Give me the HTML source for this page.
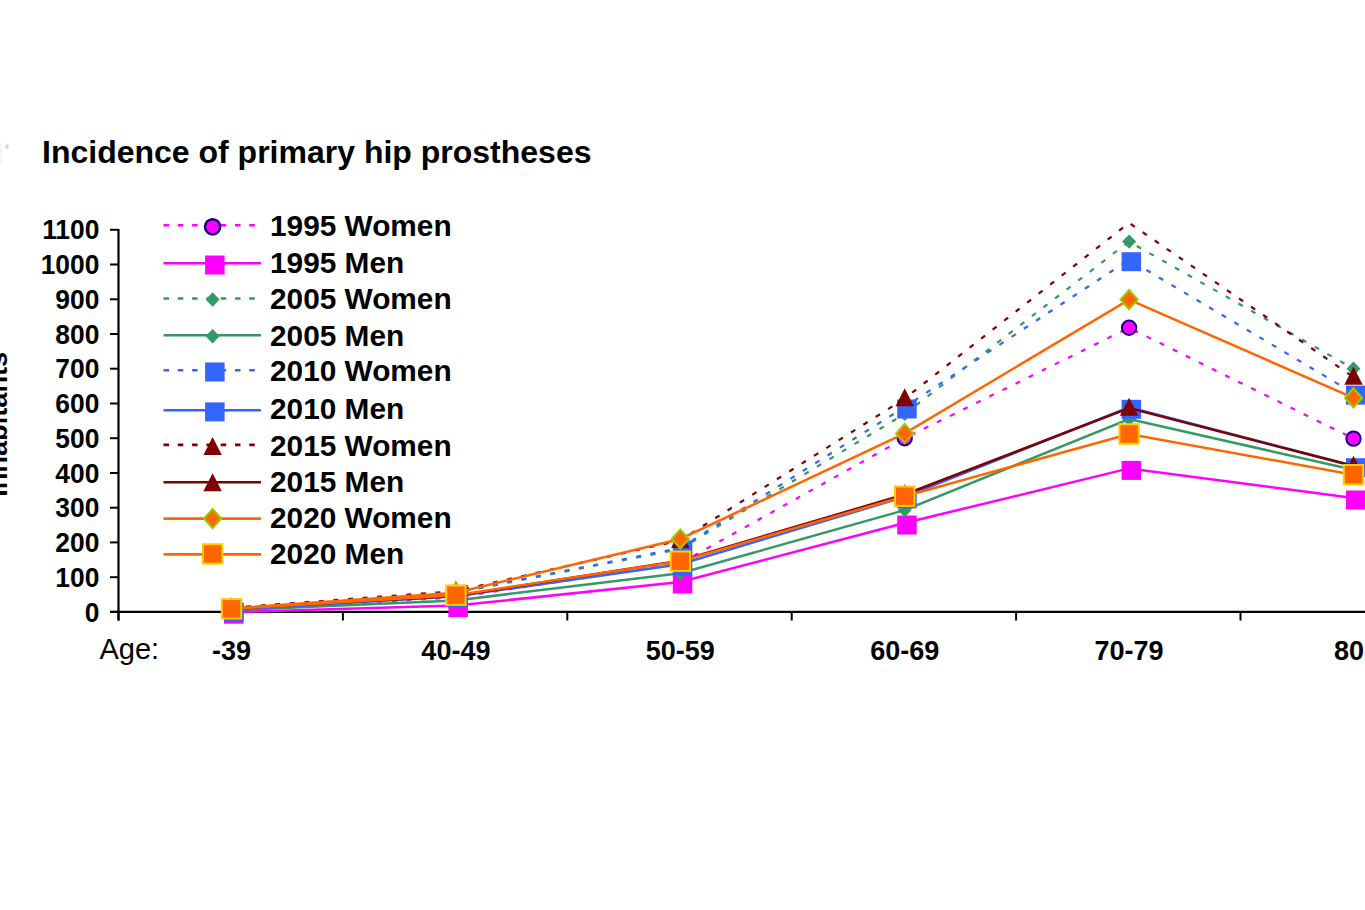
<!DOCTYPE html>
<html><head><meta charset="utf-8"><style>
html,body{margin:0;padding:0;background:#fff;width:1365px;height:910px;overflow:hidden}
svg{display:block}
text{font-family:"Liberation Sans",sans-serif}
</style></head><body>
<svg width="1365" height="910" viewBox="0 0 1365 910">
<rect width="1365" height="910" fill="#fff"/>

<ellipse cx="7" cy="146.5" rx="1.8" ry="2.5" fill="#d8d8d8"/>
<rect x="0" y="142" width="2" height="22" fill="#f6f6f6"/>
<text x="42" y="163" font-size="32" font-weight="bold" fill="#000">Incidence of primary hip prostheses</text>
<text transform="translate(7.3 496.8) rotate(-90)" font-size="27.2" font-weight="bold" fill="#000">Inhabitants</text>
<line x1="118.5" y1="229" x2="118.5" y2="620.5" stroke="#000" stroke-width="2.2"/>
<line x1="110" y1="611.9" x2="118.5" y2="611.9" stroke="#000" stroke-width="2"/>
<text transform="translate(99.4 621.5) scale(0.96 1)" font-size="27.5" font-weight="bold" text-anchor="end" fill="#000">0</text>
<line x1="110" y1="577.2" x2="118.5" y2="577.2" stroke="#000" stroke-width="2"/>
<text transform="translate(99.4 586.8) scale(0.96 1)" font-size="27.5" font-weight="bold" text-anchor="end" fill="#000">100</text>
<line x1="110" y1="542.4" x2="118.5" y2="542.4" stroke="#000" stroke-width="2"/>
<text transform="translate(99.4 552.0) scale(0.96 1)" font-size="27.5" font-weight="bold" text-anchor="end" fill="#000">200</text>
<line x1="110" y1="507.7" x2="118.5" y2="507.7" stroke="#000" stroke-width="2"/>
<text transform="translate(99.4 517.3) scale(0.96 1)" font-size="27.5" font-weight="bold" text-anchor="end" fill="#000">300</text>
<line x1="110" y1="473.0" x2="118.5" y2="473.0" stroke="#000" stroke-width="2"/>
<text transform="translate(99.4 482.6) scale(0.96 1)" font-size="27.5" font-weight="bold" text-anchor="end" fill="#000">400</text>
<line x1="110" y1="438.2" x2="118.5" y2="438.2" stroke="#000" stroke-width="2"/>
<text transform="translate(99.4 447.8) scale(0.96 1)" font-size="27.5" font-weight="bold" text-anchor="end" fill="#000">500</text>
<line x1="110" y1="403.5" x2="118.5" y2="403.5" stroke="#000" stroke-width="2"/>
<text transform="translate(99.4 413.1) scale(0.96 1)" font-size="27.5" font-weight="bold" text-anchor="end" fill="#000">600</text>
<line x1="110" y1="368.7" x2="118.5" y2="368.7" stroke="#000" stroke-width="2"/>
<text transform="translate(99.4 378.3) scale(0.96 1)" font-size="27.5" font-weight="bold" text-anchor="end" fill="#000">700</text>
<line x1="110" y1="334.0" x2="118.5" y2="334.0" stroke="#000" stroke-width="2"/>
<text transform="translate(99.4 343.6) scale(0.96 1)" font-size="27.5" font-weight="bold" text-anchor="end" fill="#000">800</text>
<line x1="110" y1="299.3" x2="118.5" y2="299.3" stroke="#000" stroke-width="2"/>
<text transform="translate(99.4 308.9) scale(0.96 1)" font-size="27.5" font-weight="bold" text-anchor="end" fill="#000">900</text>
<line x1="110" y1="264.5" x2="118.5" y2="264.5" stroke="#000" stroke-width="2"/>
<text transform="translate(99.4 274.1) scale(0.96 1)" font-size="27.5" font-weight="bold" text-anchor="end" fill="#000">1000</text>
<line x1="110" y1="229.8" x2="118.5" y2="229.8" stroke="#000" stroke-width="2"/>
<text transform="translate(99.4 239.4) scale(0.96 1)" font-size="27.5" font-weight="bold" text-anchor="end" fill="#000">1100</text>
<line x1="110" y1="611.9" x2="1365" y2="611.9" stroke="#000" stroke-width="2.2"/>
<line x1="118.5" y1="611.9" x2="118.5" y2="620.5" stroke="#000" stroke-width="2"/>
<line x1="342.9" y1="611.9" x2="342.9" y2="620.5" stroke="#000" stroke-width="2"/>
<line x1="567.3" y1="611.9" x2="567.3" y2="620.5" stroke="#000" stroke-width="2"/>
<line x1="791.7" y1="611.9" x2="791.7" y2="620.5" stroke="#000" stroke-width="2"/>
<line x1="1016.1" y1="611.9" x2="1016.1" y2="620.5" stroke="#000" stroke-width="2"/>
<line x1="1240.5" y1="611.9" x2="1240.5" y2="620.5" stroke="#000" stroke-width="2"/>
<text x="231.5" y="660" font-size="27" font-weight="bold" text-anchor="middle" fill="#000">-39</text>
<text x="455.9" y="660" font-size="27" font-weight="bold" text-anchor="middle" fill="#000">40-49</text>
<text x="680.3" y="660" font-size="27" font-weight="bold" text-anchor="middle" fill="#000">50-59</text>
<text x="904.7" y="660" font-size="27" font-weight="bold" text-anchor="middle" fill="#000">60-69</text>
<text x="1129.1" y="660" font-size="27" font-weight="bold" text-anchor="middle" fill="#000">70-79</text>
<text x="1353.5" y="660" font-size="27" font-weight="bold" text-anchor="middle" fill="#000">80-</text>
<text x="99.5" y="658.5" font-size="29" fill="#000">Age:</text>
<polyline points="231.5,610.9 455.9,597.3 680.3,563.3 904.7,438.2 1129.1,327.8 1353.5,438.6" fill="none" stroke="#ff00ff" stroke-width="2.2" stroke-dasharray="5 9.6"/>
<circle cx="231.5" cy="610.9" r="7.2" fill="#ff00ff" stroke="#1a0080" stroke-width="2"/>
<circle cx="455.9" cy="597.3" r="7.2" fill="#ff00ff" stroke="#1a0080" stroke-width="2"/>
<circle cx="680.3" cy="563.3" r="7.2" fill="#ff00ff" stroke="#1a0080" stroke-width="2"/>
<circle cx="904.7" cy="438.2" r="7.2" fill="#ff00ff" stroke="#1a0080" stroke-width="2"/>
<circle cx="1129.1" cy="327.8" r="7.2" fill="#ff00ff" stroke="#1a0080" stroke-width="2"/>
<circle cx="1353.5" cy="438.6" r="7.2" fill="#ff00ff" stroke="#1a0080" stroke-width="2"/>
<polyline points="231.5,612.2 455.9,605.6 680.3,582.0 904.7,523.0 1129.1,468.4 1353.5,498.0" fill="none" stroke="#ff00ff" stroke-width="2.5"/>
<rect x="224.0" y="604.7" width="19.5" height="19" fill="#ff00ff"/>
<rect x="448.4" y="598.1" width="19.5" height="19" fill="#ff00ff"/>
<rect x="672.8" y="574.5" width="19.5" height="19" fill="#ff00ff"/>
<rect x="897.2" y="515.5" width="19.5" height="19" fill="#ff00ff"/>
<rect x="1121.6" y="460.9" width="19.5" height="19" fill="#ff00ff"/>
<rect x="1346.0" y="490.5" width="19.5" height="19" fill="#ff00ff"/>
<polyline points="231.5,610.2 455.9,592.8 680.3,549.0 904.7,413.9 1129.1,241.6 1353.5,368.7" fill="none" stroke="#339966" stroke-width="2.2" stroke-dasharray="5 9.6"/>
<path d="M231.5 603.0L238.5 610.2L231.5 617.4L224.5 610.2Z" fill="#339966"/>
<path d="M455.9 585.6L462.9 592.8L455.9 600.0L448.9 592.8Z" fill="#339966"/>
<path d="M680.3 541.8L687.3 549.0L680.3 556.2L673.3 549.0Z" fill="#339966"/>
<path d="M904.7 406.7L911.7 413.9L904.7 421.1L897.7 413.9Z" fill="#339966"/>
<path d="M1129.1 234.4L1136.1 241.6L1129.1 248.8L1122.1 241.6Z" fill="#339966"/>
<path d="M1353.5 361.5L1360.5 368.7L1353.5 375.9L1346.5 368.7Z" fill="#339966"/>
<polyline points="231.5,610.2 455.9,600.4 680.3,573.3 904.7,510.1 1129.1,419.1 1353.5,469.8" fill="none" stroke="#339966" stroke-width="2.5"/>
<path d="M231.5 603.0L238.5 610.2L231.5 617.4L224.5 610.2Z" fill="#339966"/>
<path d="M455.9 593.2L462.9 600.4L455.9 607.6L448.9 600.4Z" fill="#339966"/>
<path d="M680.3 566.1L687.3 573.3L680.3 580.5L673.3 573.3Z" fill="#339966"/>
<path d="M904.7 502.9L911.7 510.1L904.7 517.3L897.7 510.1Z" fill="#339966"/>
<path d="M1129.1 411.9L1136.1 419.1L1129.1 426.3L1122.1 419.1Z" fill="#339966"/>
<path d="M1353.5 462.6L1360.5 469.8L1353.5 477.0L1346.5 469.8Z" fill="#339966"/>
<polyline points="231.5,610.2 455.9,592.4 680.3,548.0 904.7,407.0 1129.1,259.7 1353.5,393.1" fill="none" stroke="#3366ff" stroke-width="2.2" stroke-dasharray="5 9.6"/>
<rect x="224.0" y="602.7" width="19.5" height="19" fill="#3366ff"/>
<rect x="448.4" y="584.9" width="19.5" height="19" fill="#3366ff"/>
<rect x="672.8" y="540.5" width="19.5" height="19" fill="#3366ff"/>
<rect x="897.2" y="399.5" width="19.5" height="19" fill="#3366ff"/>
<rect x="1121.6" y="252.2" width="19.5" height="19" fill="#3366ff"/>
<rect x="1346.0" y="385.6" width="19.5" height="19" fill="#3366ff"/>
<polyline points="231.5,610.2 455.9,596.3 680.3,564.3 904.7,496.9 1129.1,407.3 1353.5,465.7" fill="none" stroke="#3366ff" stroke-width="2.5"/>
<rect x="224.0" y="602.7" width="19.5" height="19" fill="#3366ff"/>
<rect x="448.4" y="588.8" width="19.5" height="19" fill="#3366ff"/>
<rect x="672.8" y="556.8" width="19.5" height="19" fill="#3366ff"/>
<rect x="897.2" y="489.4" width="19.5" height="19" fill="#3366ff"/>
<rect x="1121.6" y="399.8" width="19.5" height="19" fill="#3366ff"/>
<rect x="1346.0" y="458.2" width="19.5" height="19" fill="#3366ff"/>
<polyline points="231.5,607.7 455.9,591.1 680.3,540.3 904.7,398.6 1129.1,222.9 1353.5,377.1" fill="none" stroke="#800000" stroke-width="2.2" stroke-dasharray="5 9.6"/>
<path d="M231.5 597.4L240.7 615.4L222.3 615.4Z" fill="#800000"/>
<path d="M455.9 580.8L465.1 598.8L446.7 598.8Z" fill="#800000"/>
<path d="M680.3 530.0L689.5 548.0L671.1 548.0Z" fill="#800000"/>
<path d="M904.7 388.3L913.9 406.3L895.5 406.3Z" fill="#800000"/>
<path d="M1353.5 366.8L1362.7 384.8L1344.3 384.8Z" fill="#800000"/>
<polyline points="231.5,608.4 455.9,595.9 680.3,560.8 904.7,494.5 1129.1,408.0 1353.5,466.0" fill="none" stroke="#800000" stroke-width="2.5"/>
<path d="M231.5 598.1L240.7 616.1L222.3 616.1Z" fill="#800000"/>
<path d="M455.9 585.6L465.1 603.6L446.7 603.6Z" fill="#800000"/>
<path d="M680.3 550.5L689.5 568.5L671.1 568.5Z" fill="#800000"/>
<path d="M904.7 484.2L913.9 502.2L895.5 502.2Z" fill="#800000"/>
<path d="M1129.1 397.7L1138.3 415.7L1119.9 415.7Z" fill="#800000"/>
<path d="M1353.5 455.7L1362.7 473.7L1344.3 473.7Z" fill="#800000"/>
<polyline points="231.5,608.4 455.9,592.8 680.3,539.0 904.7,433.4 1129.1,299.6 1353.5,397.9" fill="none" stroke="#ff6600" stroke-width="2.5"/>
<path d="M231.5 598.8L240.1 608.4L231.5 618.0L222.9 608.4Z" fill="#ff6600" stroke="#99cc00" stroke-width="2"/>
<path d="M455.9 583.2L464.5 592.8L455.9 602.4L447.3 592.8Z" fill="#ff6600" stroke="#99cc00" stroke-width="2"/>
<path d="M680.3 529.4L688.9 539.0L680.3 548.6L671.7 539.0Z" fill="#ff6600" stroke="#99cc00" stroke-width="2"/>
<path d="M904.7 423.8L913.3 433.4L904.7 443.0L896.1 433.4Z" fill="#ff6600" stroke="#99cc00" stroke-width="2"/>
<path d="M1129.1 290.0L1137.7 299.6L1129.1 309.2L1120.5 299.6Z" fill="#ff6600" stroke="#99cc00" stroke-width="2"/>
<path d="M1353.5 388.3L1362.1 397.9L1353.5 407.5L1344.9 397.9Z" fill="#ff6600" stroke="#99cc00" stroke-width="2"/>
<polyline points="231.5,608.8 455.9,595.2 680.3,561.2 904.7,496.2 1129.1,434.0 1353.5,474.7" fill="none" stroke="#ff6600" stroke-width="2.5"/>
<rect x="221.8" y="599.1" width="19.4" height="19.4" fill="#ff6600" stroke="#ffcc00" stroke-width="2"/>
<rect x="446.2" y="585.5" width="19.4" height="19.4" fill="#ff6600" stroke="#ffcc00" stroke-width="2"/>
<rect x="670.6" y="551.5" width="19.4" height="19.4" fill="#ff6600" stroke="#ffcc00" stroke-width="2"/>
<rect x="895.0" y="486.5" width="19.4" height="19.4" fill="#ff6600" stroke="#ffcc00" stroke-width="2"/>
<rect x="1119.4" y="424.3" width="19.4" height="19.4" fill="#ff6600" stroke="#ffcc00" stroke-width="2"/>
<rect x="1343.8" y="465.0" width="19.4" height="19.4" fill="#ff6600" stroke="#ffcc00" stroke-width="2"/>
<line x1="163.5" y1="225.3" x2="261" y2="225.3" stroke="#ff00ff" stroke-width="2.6" stroke-dasharray="5.5 8.8"/>
<circle cx="212.6" cy="226.8" r="7.6" fill="#ff00ff" stroke="#1a0080" stroke-width="2.5"/>
<text x="270" y="236.3" font-size="29.8" font-weight="bold" fill="#000">1995 Women</text>
<line x1="163.5" y1="263.3" x2="261" y2="263.3" stroke="#ff00ff" stroke-width="2.6"/>
<rect x="205.1" y="255.5" width="19.5" height="19" fill="#ff00ff"/>
<text x="270" y="272.5" font-size="29.8" font-weight="bold" fill="#000">1995 Men</text>
<line x1="163.5" y1="298.5" x2="261" y2="298.5" stroke="#339966" stroke-width="2.6" stroke-dasharray="5.5 8.8"/>
<path d="M212.6 292.3L219.6 299.5L212.6 306.7L205.6 299.5Z" fill="#339966"/>
<text x="270" y="308.8" font-size="29.8" font-weight="bold" fill="#000">2005 Women</text>
<line x1="163.5" y1="335.2" x2="261" y2="335.2" stroke="#339966" stroke-width="2.6"/>
<path d="M212.6 329.0L219.6 336.2L212.6 343.4L205.6 336.2Z" fill="#339966"/>
<text x="270" y="345.5" font-size="29.8" font-weight="bold" fill="#000">2005 Men</text>
<line x1="163.5" y1="370.3" x2="261" y2="370.3" stroke="#3366ff" stroke-width="2.6" stroke-dasharray="5.5 8.8"/>
<rect x="205.1" y="362.5" width="19.5" height="19" fill="#3366ff"/>
<text x="270" y="381.3" font-size="29.8" font-weight="bold" fill="#000">2010 Women</text>
<line x1="163.5" y1="410.2" x2="261" y2="410.2" stroke="#3366ff" stroke-width="2.6"/>
<rect x="205.1" y="402.4" width="19.5" height="19" fill="#3366ff"/>
<text x="270" y="419.0" font-size="29.8" font-weight="bold" fill="#000">2010 Men</text>
<line x1="163.5" y1="444.9" x2="261" y2="444.9" stroke="#800000" stroke-width="2.6" stroke-dasharray="5.5 8.8"/>
<path d="M212.6 436.9L221.8 454.9L203.4 454.9Z" fill="#800000"/>
<text x="270" y="455.9" font-size="29.8" font-weight="bold" fill="#000">2015 Women</text>
<line x1="163.5" y1="482.3" x2="261" y2="482.3" stroke="#800000" stroke-width="2.6"/>
<path d="M212.6 473.3L221.8 491.3L203.4 491.3Z" fill="#800000"/>
<text x="270" y="492.2" font-size="29.8" font-weight="bold" fill="#000">2015 Men</text>
<line x1="163.5" y1="518.6" x2="261" y2="518.6" stroke="#ff6600" stroke-width="2.6"/>
<path d="M212.6 509.0L221.2 518.6L212.6 528.2L204.0 518.6Z" fill="#ff6600" stroke="#99cc00" stroke-width="2"/>
<text x="270" y="528.0" font-size="29.8" font-weight="bold" fill="#000">2020 Women</text>
<line x1="163.5" y1="554.4" x2="261" y2="554.4" stroke="#ff6600" stroke-width="2.6"/>
<rect x="202.9" y="544.2" width="19.4" height="19.4" fill="#ff6600" stroke="#ffcc00" stroke-width="2"/>
<text x="270" y="563.6" font-size="29.8" font-weight="bold" fill="#000">2020 Men</text>
</svg></body></html>
